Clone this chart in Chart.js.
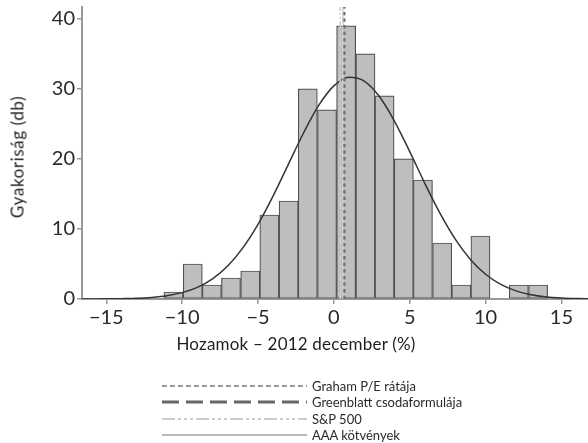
<!DOCTYPE html>
<html>
<head>
<meta charset="utf-8">
<script src="https://cdn.jsdelivr.net/npm/chart.js@4/dist/chart.umd.min.js"></script>
<style>
  body { margin: 0; background: #fff; }
  #wrap { position: relative; width: 588px; height: 443px; font-family: Lato, "DejaVu Sans", sans-serif; color: #222; }
  #chart { position: absolute; left: 0; top: 0; }
  .ytitle { position: absolute; left: 17px; top: 157px; transform: translate(-50%, -50%) rotate(-90deg); font-size: 17px; letter-spacing: 0.6px; white-space: nowrap; color: #1e1e1e; }
  .xtitle { position: absolute; left: 296px; top: 343px; transform: translate(-50%, -50%); font-size: 17px; letter-spacing: 0.2px; white-space: nowrap; color: #1e1e1e; }
  #legend { position: absolute; left: 162px; top: 378px; font-size: 13px; color: #2a2a2a; }
  .row { height: 16.3px; display: flex; align-items: center; }
  .row svg { width: 145px; height: 6px; margin-right: 5px; flex: none; }
</style>
</head>
<body>
<div id="wrap">
  <canvas id="chart" width="588" height="360"></canvas>
  <div class="ytitle">Gyakoriság (db)</div>
  <div class="xtitle">Hozamok – 2012 december (%)</div>
  <div id="legend"></div>
</div>
<script>
// Histogram bins: centre of each return bin (%) and number of stocks in it
const binCenters = [-10.57, -9.30, -8.04, -6.78, -5.51, -4.25, -2.98, -1.72, -0.45, 0.81,
                    2.08, 3.34, 4.61, 5.87, 7.14, 8.40, 9.66, 10.93, 12.19, 13.46];
const binCounts = [1, 5, 2, 3, 4, 12, 14, 30, 27, 39, 35, 29, 20, 17, 8, 2, 9, 0, 2, 2];

// Fitted normal curve, sampled at whole percents
const curveX = [-17, -16, -15, -14, -13, -12, -11, -10, -9, -8, -7, -6, -5, -4, -3, -2, -1, 0,
                1, 2, 3, 4, 5, 6, 7, 8, 9, 10, 11, 12, 13, 14, 15, 16, 17];
const curveY = [0.00, 0.01, 0.02, 0.05, 0.10, 0.23, 0.47, 0.91, 1.66, 2.88, 4.71, 7.30, 10.66, 14.73,
                19.23, 23.71, 27.64, 30.43, 31.66, 31.13, 28.92, 25.38, 21.05, 16.50, 12.22, 8.55,
                5.65, 3.53, 2.08, 1.16, 0.61, 0.30, 0.14, 0.06, 0.02];

// Benchmark returns shown as vertical reference lines
const benchmarkNames = ["Graham P/E rátája", "Greenblatt csodaformulája", "S&P 500", "AAA kötvények"];
const benchmarkReturns = [0.70, 0.69, 0.42, 0.60];

// Axis ticks
const xTickValues = [-15, -10, -5, 0, 5, 10, 15];
const yTickValues = [0, 10, 20, 30, 40];

const X_MIN = -16.6, X_MAX = 16.75, Y_MAX = 41.7;
const FONT = 'Lato, "DejaVu Sans", sans-serif';

// Line appearance for each benchmark (chart and legend)
const benchStyles = [
  { color: '#707070', dash: [3.3, 3.3], width: 2, legendColor: '#9a9a9a', legendDash: [5, 3], legendWidth: 2 },
  { color: '#8a8a8a', dash: [3.3, 3.3], width: 1.5, legendColor: '#666666', legendDash: [17, 7], legendWidth: 3 },
  { color: '#cfcfcf', dash: [8, 2, 2, 2, 2, 2], width: 1.5, legendColor: '#cccccc', legendDash: [13, 3, 3, 3, 3, 3, 3, 3], legendWidth: 2 },
  { color: '#cfcfcf', dash: [], width: 1.5, legendColor: '#a0a0a0', legendDash: [], legendWidth: 1.5 }
];

const minusFmt = v => String(v).replace('-', '\u2212');

const datasets = [];
benchmarkReturns.forEach((v, i) => {
  const s = benchStyles[i];
  datasets.push({
    type: 'line',
    label: benchmarkNames[i],
    data: [{ x: v, y: 0 }, { x: v, y: Y_MAX }],
    borderColor: s.color,
    borderWidth: s.width,
    borderDash: s.dash,
    pointRadius: 0,
    fill: false,
    order: i
  });
});
datasets.push({
  type: 'line',
  label: 'Normális eloszlás',
  data: curveX.map((x, i) => ({ x: x, y: curveY[i] })),
  borderColor: '#333333',
  borderWidth: 1.5,
  pointRadius: 0,
  cubicInterpolationMode: 'monotone',
  fill: false,
  order: 5
});
datasets.push({
  type: 'bar',
  label: 'Gyakoriság',
  data: binCenters.map((x, i) => ({ x: x, y: binCounts[i] })),
  backgroundColor: '#bebebe',
  borderColor: '#505050',
  borderWidth: 1.2,
  borderSkipped: false,
  barPercentage: 1,
  categoryPercentage: 1,
  order: 10
});

new Chart(document.getElementById('chart'), {
  type: 'bar',
  data: { datasets: datasets },
  options: {
    responsive: false,
    animation: false,
    layout: { padding: { top: 7, left: 0, right: 0, bottom: 0 } },
    plugins: { legend: { display: false }, tooltip: { enabled: false } },
    scales: {
      x: {
        type: 'linear',
        min: X_MIN,
        max: X_MAX,
        offset: false,
        grid: { display: true, drawOnChartArea: false, drawTicks: true, tickLength: 5, color: '#999', lineWidth: 1.5, offset: false },
        border: { color: '#999', width: 2 },
        ticks: { font: { family: FONT, size: 20 }, color: '#2a2a2a', padding: 2, maxRotation: 0, autoSkip: false, callback: minusFmt },
        afterBuildTicks: s => { s.ticks = xTickValues.map(v => ({ value: v })); },
        afterFit: s => { s.height = 61; s.paddingLeft = 0; s.paddingRight = 0; }
      },
      y: {
        type: 'linear',
        min: 0,
        max: Y_MAX,
        grid: { display: true, drawOnChartArea: false, drawTicks: true, tickLength: 5, color: '#999', lineWidth: 1.5 },
        border: { color: '#999', width: 2 },
        ticks: { font: { family: FONT, size: 20 }, color: '#2a2a2a', padding: 2, autoSkip: false },
        afterBuildTicks: s => { s.ticks = yTickValues.map(v => ({ value: v })); },
        afterFit: s => { s.width = 82; s.paddingTop = 0; s.paddingBottom = 0; }
      }
    }
  }
});

// Legend with line samples
const legend = document.getElementById('legend');
benchmarkNames.forEach((name, i) => {
  const s = benchStyles[i];
  const row = document.createElement('div');
  row.className = 'row';
  const ns = 'http://www.w3.org/2000/svg';
  const svg = document.createElementNS(ns, 'svg');
  const ln = document.createElementNS(ns, 'line');
  ln.setAttribute('x1', 0); ln.setAttribute('x2', 145);
  ln.setAttribute('y1', 3); ln.setAttribute('y2', 3);
  ln.setAttribute('stroke', s.legendColor);
  ln.setAttribute('stroke-width', s.legendWidth);
  if (s.legendDash.length) ln.setAttribute('stroke-dasharray', s.legendDash.join(' '));
  svg.appendChild(ln);
  const txt = document.createElement('span');
  txt.textContent = name;
  row.appendChild(svg);
  row.appendChild(txt);
  legend.appendChild(row);
});
</script>
</body>
</html>
